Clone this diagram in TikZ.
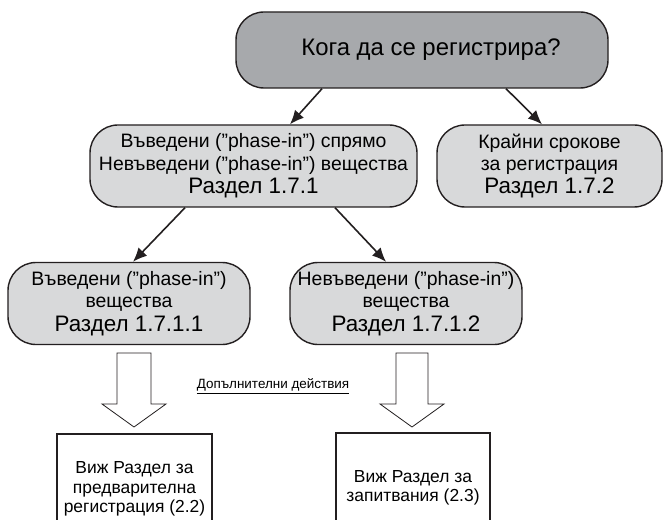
\documentclass[tikz,border=0pt]{standalone}
\usepackage{fontspec}
\setmainfont{Liberation Sans}
\usetikzlibrary{arrows.meta}
\definecolor{topgray}{HTML}{A7A9AC}
\definecolor{lowgray}{HTML}{D8D9DA}
\definecolor{edgec}{HTML}{231F20}
\begin{document}
\begin{tikzpicture}[x=1bp,y=-1bp,
  roundbox/.style={draw=edgec, line width=1.4bp, rounded corners=28bp, align=center, inner sep=0pt},
  topbox/.style={roundbox, fill=topgray, minimum width=372bp, minimum height=76bp, font=\fontsize{24}{28}\selectfont},
  midbox/.style={roundbox, fill=lowgray, minimum height=82bp, font=\fontsize{19.5}{22.5}\selectfont},
  conn/.style={draw=edgec, line width=1.6bp, -{Latex[length=14bp,width=12bp]}},
  blockarrow/.style={draw=edgec, fill=white, line width=0.8bp},
  seebox/.style={draw=edgec, line width=2bp, align=center, inner sep=0pt, minimum height=110bp, font=\fontsize{17.5}{19.5}\selectfont}
]
\useasboundingbox (0,0) rectangle (664,520);
\clip (0,0) rectangle (664,520);
\fill[white] (0,0) rectangle (664,520);

\node[topbox] (q) at (422,50) {\hspace*{18bp}Кога да се регистрира?};

\node[midbox, minimum width=327bp] (n171) at (253.5,166)
  {Въведени (”phase-in”) спрямо\\ Невъведени (”phase-in”) вещества\\[1bp] {\fontsize{22.5}{24}\selectfont Раздел 1.7.1}};
\node[midbox, minimum width=225bp] (n172) at (549.5,166)
  {Крайни срокове\\ за регистрация\\[1bp] {\fontsize{22.5}{24}\selectfont Раздел 1.7.2}};
\node[midbox, minimum width=242bp] (n1711) at (129,303.5)
  {Въведени (”phase-in”)\\ вещества\\[1bp] {\fontsize{22.5}{24}\selectfont Раздел 1.7.1.1}};
\node[midbox, minimum width=232bp] (n1712) at (406,303.5)
  {Невъведени (”phase-in”)\\ вещества\\[1bp] {\fontsize{22.5}{24}\selectfont Раздел 1.7.1.2}};

\draw[conn] ([xshift=-100bp]q.south) -- ([xshift=36.5bp]n171.north);
\draw[conn] ([xshift=84bp]q.south) -- ([xshift=-7.5bp]n172.north);
\draw[conn] ([xshift=-68.5bp]n171.south) -- ([xshift=4bp]n1711.north);
\draw[conn] ([xshift=81.5bp]n171.south) -- ([xshift=-20bp]n1712.north);

\draw[blockarrow] (117,353) -- (151,353) -- (151,404) -- (166,404) -- (134,427) -- (102,404) -- (117,404) -- cycle;
\draw[blockarrow] (396,353) -- (428,353) -- (428,404) -- (444,404) -- (412,427) -- (380,404) -- (396,404) -- cycle;

\node[font=\fontsize{13.5}{15}\selectfont] (lab) at (273,386) {\underline{Допълнителни действия}};

\node[seebox, minimum width=155bp] (b1) at (134.5,489) {Виж Раздел за\\ предварителна\\ регистрация (2.2)};
\node[seebox, minimum width=154bp] (b2) at (413,488) {Виж Раздел за\\ запитвания (2.3)};
\end{tikzpicture}
\end{document}
